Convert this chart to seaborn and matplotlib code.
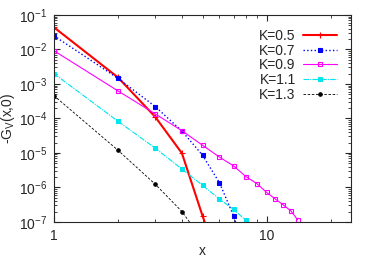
import numpy as np
import pandas as pd
import matplotlib
matplotlib.use("Agg")
import matplotlib.pyplot as plt
import seaborn as sns
from matplotlib.ticker import LogLocator, FixedLocator, NullFormatter

# ----------- data -----------
x_k05 = [1, 2, 3, 4, 5, 6]
y_k05 = [4.4e-2, 1.55e-3, 1.1e-4, 9.8e-6, 1.5e-7, 6e-9]

x_k07 = [1, 2, 3, 4, 5, 6, 7, 8]
y_k07 = [2.5e-2, 1.46e-3, 2.2e-4, 4.3e-5, 8.6e-6, 1.38e-6, 1.5e-7, 1.2e-8]

x_k09 = [1, 2, 3, 4, 5, 6, 7, 8, 9, 10, 11, 12, 13, 14]
y_k09 = [9.2e-3, 6.3e-4, 1.35e-4, 4.4e-5, 1.67e-5, 7.6e-6, 4.2e-6,
         2.06e-6, 1.29e-6, 7.2e-7, 4.6e-7, 3.1e-7, 2.1e-7, 1.15e-7]

x_k11 = [1, 2, 3, 4, 5, 6, 7, 8]
y_k11 = [2.0e-3, 8.3e-5, 1.37e-5, 3.4e-6, 1.15e-6, 4.6e-7, 2.3e-7, 1.1e-7]

x_k13 = [1, 2, 3, 4, 5]
y_k13 = [4.6e-4, 1.2e-5, 1.23e-6, 2.0e-7, 3e-8]

labels = ["K=0.5", "K=0.7", "K=0.9", "K=1.1", "K=1.3"]

sns.set_style("ticks")
plt.rcParams["font.family"] = ["Liberation Sans", "DejaVu Sans"]
plt.rcParams["mathtext.default"] = "regular"

fig = plt.figure(figsize=(3.74, 2.62), dpi=100)
ax = fig.add_axes([0.144, 0.153, 0.795, 0.790])

series = [
    (x_k05, y_k05, "#ff0000", "-", "+", 1.5, "#ff0000", 4),
    (x_k07, y_k07, "#0000ff", ":", "s", 1.0, "#0000ff", 3),
    (x_k09, y_k09, "#ff00ff", "-", "s", 0.8, "none", 3.5),
    (x_k11, y_k11, "#00e5ee", (0, (5, 1, 1, 1)), "s", 0.8, "#00e5ee", 3),
    (x_k13, y_k13, "#000000", (0, (3, 2)), "o", 0.6, "#000000", 2.5),
]
for (xs, ys, c, ls, mk, lw, mfc, ms), lab in zip(series, labels):
    sns.lineplot(x=xs, y=ys, ax=ax, color=c, linestyle=ls, marker=mk,
                 linewidth=lw, markerfacecolor=mfc, markeredgecolor=c,
                 markersize=ms, markeredgewidth=0.8, label=lab)

ax.set_xscale("log")
ax.set_yscale("log")
ax.set_xlim(1, 25)
ax.set_ylim(1e-7, 1e-1)

ax.xaxis.set_major_locator(FixedLocator([1, 10]))
ax.xaxis.set_major_formatter(matplotlib.ticker.FuncFormatter(lambda v, p: "%d" % v))
ax.xaxis.set_minor_locator(LogLocator(base=10, subs=np.arange(2, 10)))
ax.xaxis.set_minor_formatter(NullFormatter())
ax.yaxis.set_major_locator(LogLocator(base=10, numticks=10))
ax.yaxis.set_minor_locator(LogLocator(base=10, subs=np.arange(2, 10), numticks=10))
ax.yaxis.set_minor_formatter(NullFormatter())

ax.tick_params(which="both", direction="in", top=True, right=True, labelsize=10)
ax.tick_params(axis="x", which="major", pad=5)
ax.tick_params(axis="y", which="major", pad=5)
ax.tick_params(which="major", length=4, width=0.8)
ax.tick_params(which="minor", length=2, width=0.6)
for s in ax.spines.values():
    s.set_linewidth(0.8)

ax.set_xlabel("x", fontsize=10, labelpad=1)
ax.set_ylabel("-G$_V$(x,0)", fontsize=10, labelpad=1)

ax.legend(loc="upper right", frameon=False, markerfirst=False, fontsize=10,
          handlelength=2.5, handletextpad=0.5, labelspacing=0.05,
          borderaxespad=0.6)

fig.savefig("out.png", dpi=100)
